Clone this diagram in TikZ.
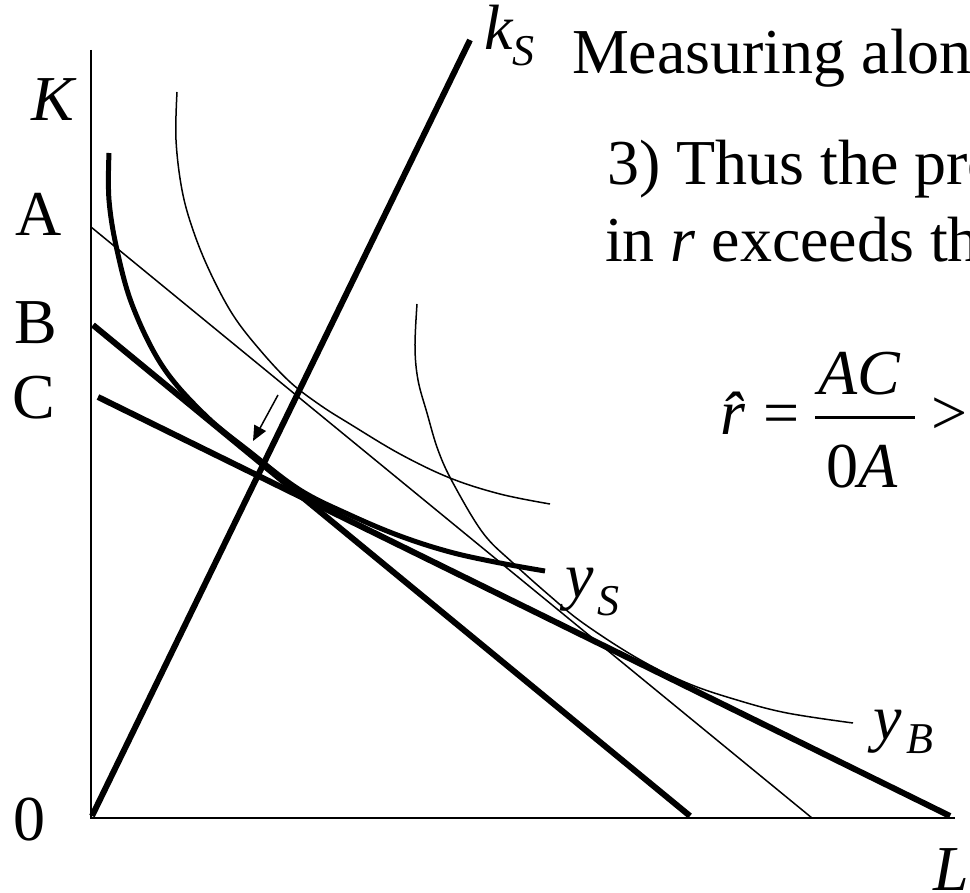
\documentclass[tikz,border=0pt]{standalone}
\usepackage{fontspec}
\setmainfont{Liberation Serif}
\usetikzlibrary{arrows.meta}
\begin{document}
\begin{tikzpicture}[x=1pt,y=-1pt,
  axisline/.style={line width=1.5pt},
  thinline/.style={line width=1.5pt},
  boldline/.style={line width=6pt},
  boldcurve/.style={line width=5pt},
  bigtxt/.style={font=\fontsize{64}{76}\selectfont, inner sep=0pt, outer sep=0pt},
  subtxt/.style={font=\fontsize{44}{50}\selectfont\itshape, inner sep=0pt, outer sep=0pt, anchor=base west},
  lab/.style={bigtxt, anchor=base west},
  pointer/.style={line width=1.5pt, -{Triangle[length=15pt,width=13pt]}}]
\useasboundingbox (0,0) rectangle (970,893);
\clip (0,0) rectangle (970,893);
% axes
\coordinate (O) at (91,818);
\coordinate (Ktop) at (91,50);
\coordinate (Lend) at (955,818);
\draw[axisline] (Ktop) -- (O) -- (Lend);
% budget lines
\coordinate (Astart) at (91,227);   \coordinate (Aend) at (812,818);
\coordinate (Bstart) at (93,325);   \coordinate (Bend) at (690,816);
\coordinate (Cstart) at (98,397);   \coordinate (Cend) at (950,816);
\draw[thinline] (Astart) -- (Aend);
\draw[boldline] (Bstart) -- (Bend);
\draw[boldline] (Cstart) -- (Cend);
% ray k_S
\coordinate (rayO) at (92,816);
\coordinate (rayTop) at (470,40);
\draw[boldline] (rayO) -- (rayTop);
% isoquants
\draw[boldcurve] plot[smooth, tension=0.6] coordinates {(109,153) (109,200) (117,250) (133,307) (163,367) (205,415) (250,452) (300,490) (350,515) (400,536) (450,552) (500,563) (545,571)};
\draw[thinline] plot[smooth, tension=0.6] coordinates {(177,92) (176,140) (182,190) (193,230) (210,272) (233,315) (260,350) (290,382) (320,405) (350,424) (400,454) (450,478) (500,494) (550,504)};
\draw[thinline] plot[smooth, tension=0.6] coordinates {(417,304) (415,347) (418,380) (427,413) (438,450) (453,483) (483,533) (513,563) (550,596) (583,623) (637,658) (687,683) (737,700) (787,713) (853,723)};
% pointer arrow
\coordinate (arrTail) at (278,395);
\coordinate (arrHead) at (253,441);
\draw[pointer] (arrTail) -- (arrHead);
% axis labels
\node[bigtxt] (labK) at (53,100) {\itshape K};
\node[bigtxt] (labA) at (39,214) {A};
\node[bigtxt] (labB) at (36,323) {B};
\node[bigtxt] (labC) at (34,398) {C};
\node[bigtxt] (lab0) at (29,820) {0};
\node[lab] (labL) at (933,890) {\itshape L};
% curve labels
\node[lab] (labk) at (484,50) {\itshape k};
\node[subtxt] (labkS) at (512,66) {S};
\node[lab] (labyS) at (565,597) {\itshape y};
\node[subtxt] (labySs) at (597,615) {S};
\node[lab] (labyB) at (873,739) {\itshape y};
\node[subtxt] (labyBs) at (906,753) {B};
% text
\node[lab] (t1) at (572,74) {Measuring alon};
\node[lab] (t2) at (607,185) {3) Thus the pro};
\node[lab] (t3) at (605,262) {in {\itshape r} exceeds th};
% formula
\node[lab] (rhat) at (720,435) {\itshape \^{r}};
\node[lab] (eq) at (763,435) {=};
\node[lab] (num) at (818,395) {\itshape AC};
\node[lab] (den) at (826,487) {0\itshape A};
\coordinate (barL) at (815,418);
\coordinate (barR) at (915,418);
\draw[line width=3pt] (barL) -- (barR);
\node[lab] (gt) at (931,435) {>};
\end{tikzpicture}
\end{document}
